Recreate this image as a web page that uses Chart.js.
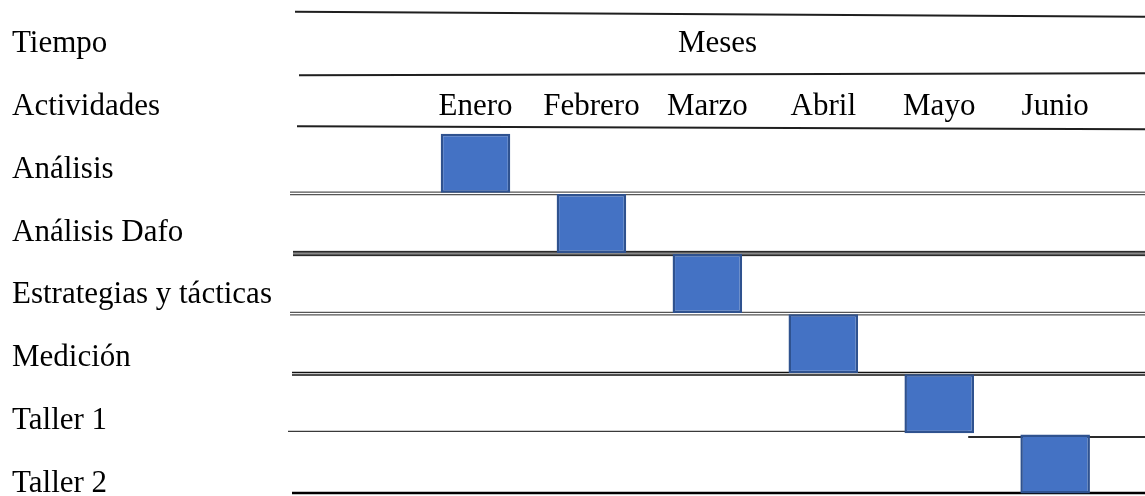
<!DOCTYPE html>
<html lang="es">
<head>
<meta charset="utf-8">
<title>Cronograma de actividades</title>
<script src="https://cdn.jsdelivr.net/npm/chart.js@4.4.1/dist/chart.umd.min.js"></script>
<style>
  html, body { margin: 0; padding: 0; background: #ffffff; }
  #wrap { width: 1145px; height: 496px; position: relative; }
</style>
</head>
<body>
<div id="wrap"><canvas id="gantt"></canvas></div>
<script>
// Table header rows and activities (one row each)
const headerRows = ['Tiempo', 'Actividades'];
const activities = ['Análisis', 'Análisis Dafo', 'Estrategias y tácticas', 'Medición', 'Taller 1', 'Taller 2'];
const months = ['Enero', 'Febrero', 'Marzo', 'Abril', 'Mayo', 'Junio'];
const monthsTitle = 'Meses';
// Month index (0 = Enero) where each activity starts, and its length in months
const startMonth = [0, 1, 2, 3, 4, 5];
const durationMonths = [1, 1, 1, 1, 1, 1];

const rowLabels = headerRows.concat(activities);

const FONT = '"Liberation Serif", "Times New Roman", serif';
const FONT_SIZE = 31;
const BOX_INSET = 0.2;   // gap between a box and the month column edge

Chart.defaults.font.family = FONT;
Chart.defaults.color = '#000000';

// Horizontal rules between table rows: one entry per boundary, top to bottom
const ruleStyles = [
  { kind: 'single', width: 2, color: '#1f1f1f', indent: 5, dy: -1.3, tilt: 5 },
  { kind: 'single', width: 2, color: '#1f1f1f', indent: 9, dy: 2, tilt: -2 },
  { kind: 'single', width: 2, color: '#1f1f1f', indent: 7, dy: -7, tilt: 3 },
  { kind: 'double', width: 1.2, gap: 2.4, color: '#555555', indent: 0 },
  { kind: 'heavy', indent: 3 },
  { kind: 'double', width: 1.2, gap: 2.4, color: '#555555', indent: 0 },
  { kind: 'double', width: 1.4, gap: 2.4, color: '#111111', indent: 2 },
  { kind: 'broken', indent: -2, breakAt: 4.75 },
  { kind: 'single', width: 2.4, color: '#000000', indent: 2, dy: -1, tilt: 0 }
];

function hline(ctx, x1, y1, x2, y2, width, color) {
  ctx.beginPath();
  ctx.lineWidth = width;
  ctx.strokeStyle = color;
  ctx.moveTo(x1, y1);
  ctx.lineTo(x2, y2);
  ctx.stroke();
}

const tableRules = {
  id: 'tableRules',
  beforeDatasetsDraw(chart) {
    const { ctx, chartArea } = chart;
    const yRows = chart.scales.y;
    const x = chart.scales.x;
    ctx.save();
    ruleStyles.forEach((s, k) => {
      const y = yRows.getPixelForValue(k - 0.5);
      const left = chartArea.left + s.indent;
      const right = chartArea.right;
      if (s.kind === 'single') {
        hline(ctx, left, y + s.dy, right, y + s.dy + s.tilt, s.width, s.color);
      } else if (s.kind === 'double') {
        hline(ctx, left, y - s.gap / 2, right, y - s.gap / 2, s.width, s.color);
        hline(ctx, left, y + s.gap / 2, right, y + s.gap / 2, s.width, s.color);
      } else if (s.kind === 'heavy') {
        hline(ctx, left, y, right, y, 5.5, '#8a8a8a');
        hline(ctx, left, y - 1.8, right, y - 1.8, 1.6, '#2a2a2a');
        hline(ctx, left, y + 1.8, right, y + 1.8, 1.6, '#2a2a2a');
      } else if (s.kind === 'broken') {
        const xb = x.getPixelForValue(s.breakAt);
        hline(ctx, left, y - 2.5, xb, y - 2.5, 1.4, '#3a3a3a');
        hline(ctx, xb, y + 3, right, y + 3, 2, '#2a2a2a');
      }
    });
    ctx.restore();
  }
};

// Month names and the "Meses" heading inside the two header rows
const monthHeader = {
  id: 'monthHeader',
  afterDatasetsDraw(chart) {
    const { ctx, chartArea } = chart;
    const x = chart.scales.x;
    const yl = chart.scales.yl;
    ctx.save();
    ctx.font = FONT_SIZE + 'px ' + FONT;
    ctx.fillStyle = '#000000';
    ctx.textAlign = 'center';
    ctx.textBaseline = 'middle';
    ctx.fillText(monthsTitle, (chartArea.left + chartArea.right) / 2, yl.getPixelForValue(0));
    months.forEach((m, i) => {
      ctx.fillText(m, x.getPixelForValue(i + 0.5), yl.getPixelForValue(1));
    });
    ctx.restore();
  }
};

new Chart(document.getElementById('gantt'), {
  type: 'bar',
  data: {
    labels: rowLabels,
    datasets: [{
      label: 'Actividades',
      data: activities.map((a, i) => ({
        y: a,
        x: [startMonth[i] + BOX_INSET, startMonth[i] + durationMonths[i] - BOX_INSET]
      })),
      xAxisID: 'x',
      yAxisID: 'y',
      backgroundColor: '#4472C4',
      borderColor: '#2F528F',
      borderWidth: 2.5,
      borderSkipped: false,
      barPercentage: 0.98,
      categoryPercentage: 1
    }]
  },
  options: {
    indexAxis: 'y',
    responsive: true,
    maintainAspectRatio: false,
    animation: false,
    events: [],
    layout: { padding: { left: 12, right: 0, top: 13, bottom: 2 } },
    plugins: {
      legend: { display: false },
      tooltip: { enabled: false },
      title: { display: false }
    },
    scales: {
      x: {
        type: 'linear',
        min: -1.1,
        max: 6.275,
        display: false
      },
      y: {
        type: 'category',
        display: false,
        offset: true
      },
      // Label column of the table: one tick per row label
      yl: {
        type: 'linear',
        axis: 'y',
        position: 'left',
        reverse: true,
        offset: false,
        bounds: 'data',
        min: -0.49,
        max: 7.16,
        grid: { display: false, drawTicks: false, offset: false },
        border: { display: false },
        afterBuildTicks(scale) {
          scale.ticks = rowLabels.map((_, i) => ({ value: i }));
        },
        afterFit(scale) {
          scale.width = 278;
          scale.paddingTop = 0;
          scale.paddingBottom = 0;
        },
        ticks: {
          autoSkip: false,
          crossAlign: 'far',
          padding: 0,
          color: '#000000',
          font: { family: FONT, size: FONT_SIZE },
          callback: (v) => rowLabels[v] !== undefined ? rowLabels[v] : ''
        }
      }
    }
  },
  plugins: [tableRules, monthHeader]
});
</script>
</body>
</html>
